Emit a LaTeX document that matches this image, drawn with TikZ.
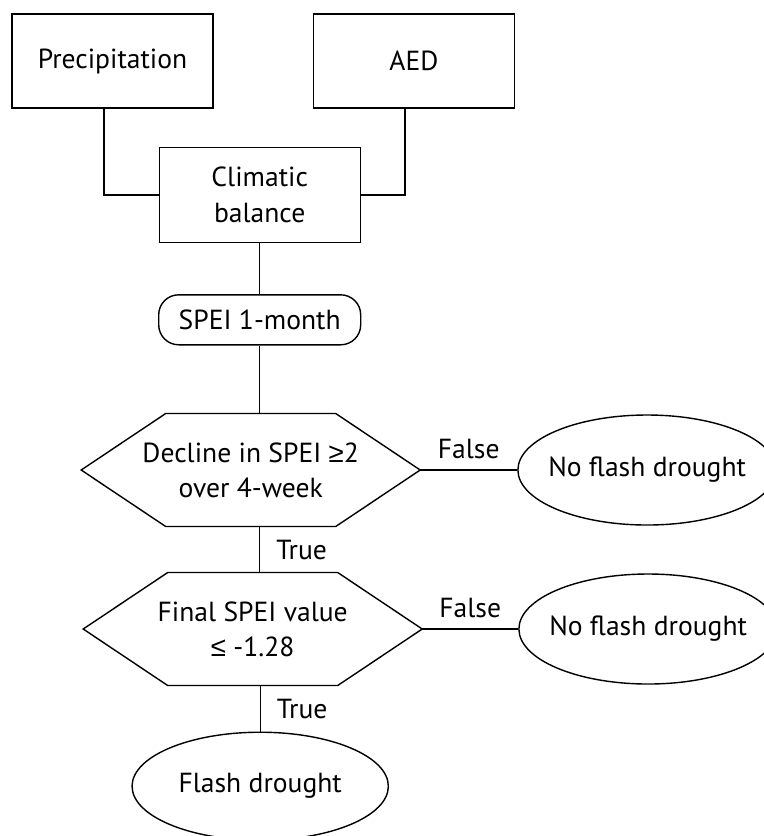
\documentclass[tikz,border=0pt]{standalone}
\usepackage{fontspec}
\setmainfont{PT Sans}
\newfontfamily\symfont{Liberation Sans}
\usetikzlibrary{positioning, shapes.geometric, calc}

\begin{document}
\begin{tikzpicture}[node distance=1cm, font=\fontsize{15.7}{20}\selectfont, line width=0.8pt]
    % Styles
    \tikzstyle{box} = [rectangle, draw, minimum width=4.02cm, minimum height=1.88cm, align=center]
    \tikzstyle{rbox} = [rectangle, draw, rounded corners=0.4cm, minimum width=4.04cm, minimum height=1cm]
    \tikzstyle{decision} = [rectangle, minimum width=6.78cm, minimum height=2.26cm, align=center, outer sep=0pt]
    \tikzstyle{result} = [ellipse, draw, minimum width=5cm, minimum height=2.2cm, inner xsep=-0.15cm]

    \useasboundingbox (-2.25,1.22) rectangle (13.03,-15.5);

    % Nodes
    \node [box] (precip) {Precipitation};
    \node [box, right=1.98cm of precip] (aed) {AED};
    \node [box, minimum height=1.9cm, below=0.76cm of $(precip.south)!0.5!(aed.south)$, xshift=-0.07cm] (climatic) {Climatic \\ balance};
    \node [rbox, below=1.02cm of climatic] (spei) {SPEI 1-month};
    \node [decision, below=1.36cm of spei, xshift=-0.18cm] (decline) {Decline in SPEI {\symfont ≥}2 \\ over 4-week};
    \node [decision, below=0.92cm of decline, xshift=0.04cm] (final) {Final SPEI value \\ {\symfont ≤} -1.28};
    \node [result, inner xsep=0.18cm, minimum width=5.1cm, minimum height=2.16cm, below=0.92cm of final, xshift=0.15cm] (flash) {Flash drought};
    \node [result, right=1.94cm of decline] (nofd1) {No flash drought};
    \node [result, right=1.92cm of final] (nofd2) {No flash drought};

    % Hexagons
    \foreach \n in {decline, final}
        \draw ($(\n.north west)+(1.69,0)$) -- ($(\n.north east)+(-1.69,0)$) -- (\n.east)
        -- ($(\n.south east)+(-1.69,0)$) -- ($(\n.south west)+(1.69,0)$) -- (\n.west) -- cycle;

    % Lines
    \draw ([xshift=-0.17cm]precip.south) |- (climatic.west);
    \draw ([xshift=-0.18cm]aed.south) |- (climatic.east);
    \draw (climatic.south) -- (spei.north);
    \draw (spei.south) -- (spei.south |- decline.north);
    \draw (spei.south |- decline.south) -- node[right=0.2cm] {True} (spei.south |- final.north);
    \draw (flash.north |- final.south) -- node[right=0.2cm] {True} (flash.north);
    \draw (decline.east) -- node[above=0.1cm] {False} (nofd1.west);
    \draw (final.east) -- node[above=0.1cm] {False} (nofd2.west);
\end{tikzpicture}
\end{document}
